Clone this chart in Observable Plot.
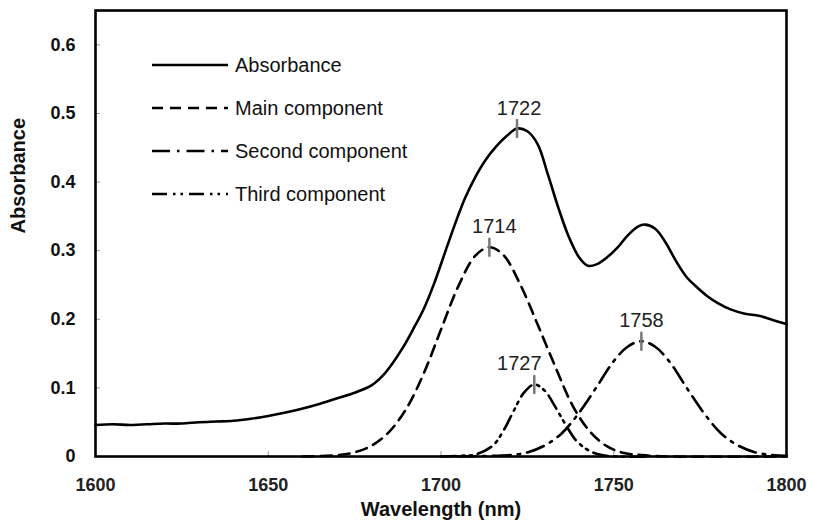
<!DOCTYPE html>
<html>
<head>
<meta charset="utf-8">
<script src="https://cdn.jsdelivr.net/npm/d3@7"></script>
<script src="https://cdn.jsdelivr.net/npm/@observablehq/plot@0.6"></script>
<style>
  body { margin: 0; background: #fff; }
  #chart { width: 815px; height: 531px; }
  #chart svg { font-family: Arial, "Liberation Sans", sans-serif; }
</style>
</head>
<body>
<div id="chart"></div>
<script>
// Measured absorbance spectrum
const absWl = [1600, 1605, 1610, 1615, 1620, 1625, 1630, 1635, 1640, 1645, 1650, 1655, 1660, 1665, 1670, 1675, 1680, 1683, 1686, 1689, 1692, 1695, 1698, 1701, 1704, 1707, 1710, 1713, 1716, 1719, 1722, 1725, 1728, 1731, 1734, 1737, 1740, 1742.5, 1745, 1748, 1751, 1754, 1757, 1759, 1762, 1765, 1768, 1771, 1774, 1777, 1780, 1784, 1788, 1792, 1796, 1800];
const absVal = [0.046, 0.047, 0.046, 0.047, 0.048, 0.048, 0.050, 0.051, 0.052, 0.055, 0.059, 0.064, 0.070, 0.077, 0.085, 0.093, 0.104, 0.117, 0.136, 0.159, 0.186, 0.215, 0.252, 0.295, 0.338, 0.377, 0.408, 0.433, 0.452, 0.467, 0.478, 0.474, 0.455, 0.410, 0.362, 0.320, 0.290, 0.278, 0.280, 0.290, 0.304, 0.322, 0.335, 0.338, 0.332, 0.312, 0.285, 0.262, 0.247, 0.234, 0.224, 0.214, 0.208, 0.205, 0.199, 0.193];

// Fitted components
const mainWl = [1660, 1670, 1675, 1680, 1685, 1690, 1695, 1700, 1705, 1710, 1714, 1718, 1723, 1728, 1733, 1738, 1743, 1748, 1753, 1758, 1765, 1800];
const mainVal = [0, 0.002, 0.006, 0.016, 0.036, 0.070, 0.121, 0.185, 0.248, 0.293, 0.305, 0.294, 0.250, 0.192, 0.132, 0.075, 0.037, 0.015, 0.005, 0.002, 0, 0];

const secondWl = [1705, 1715, 1720, 1725, 1730, 1735, 1740, 1745, 1750, 1754, 1758, 1762, 1766, 1771, 1776, 1781, 1786, 1791, 1796, 1800];
const secondVal = [0, 0.001, 0.002, 0.006, 0.016, 0.034, 0.064, 0.101, 0.139, 0.160, 0.168, 0.160, 0.139, 0.101, 0.064, 0.034, 0.016, 0.006, 0.002, 0.001];

const thirdWl = [1700, 1705, 1710, 1715, 1718, 1721, 1724, 1727, 1730, 1733, 1736, 1739, 1742, 1745, 1750, 1760];
const thirdVal = [0, 0.001, 0.003, 0.016, 0.037, 0.066, 0.093, 0.105, 0.096, 0.073, 0.047, 0.024, 0.011, 0.004, 0, 0];

// Peak positions marked on the curves
const peakWl = [1722, 1714, 1727, 1758];
const peakVal = [0.478, 0.305, 0.105, 0.168];

const seriesNames = ["Absorbance", "Main component", "Second component", "Third component"];
const xTicks = [1600, 1650, 1700, 1750, 1800];
const yTicks = [0, 0.1, 0.2, 0.3, 0.4, 0.5, 0.6];

// line styles per series
const dashes = [null, "11,7", "18,7,2.5,7", "15,6,2.5,5,2.5,6"];
const lineWidth = 2.6;

const toRows = (wl, val) => wl.map((w, i) => ({wl: w, a: val[i]}));
const seriesRows = [
  toRows(absWl, absVal),
  toRows(mainWl, mainVal),
  toRows(secondWl, secondVal),
  toRows(thirdWl, thirdVal)
];
const peaks = peakWl.map((w, i) => ({wl: w, a: peakVal[i]}));
// small horizontal nudges for crowded peak labels
const labelShift = {1714: 5, 1727: -15, 1722: 2};

// legend drawn inside the frame, top-left
function legend(index, scales, values, dims) {
  const g = d3.create("svg:g");
  const x0 = dims.marginLeft + 57, x1 = dims.marginLeft + 133;
  seriesNames.forEach((name, i) => {
    const y = 65 + i * 43;
    const line = g.append("line")
      .attr("x1", x0).attr("x2", x1).attr("y1", y).attr("y2", y)
      .attr("stroke", "black").attr("stroke-width", lineWidth);
    if (dashes[i]) line.attr("stroke-dasharray", dashes[i]);
    g.append("text")
      .attr("x", x1 + 7).attr("y", y).attr("dy", "0.36em")
      .attr("text-anchor", "start")
      .attr("font-size", 20).attr("fill", "#111")
      .text(name);
  });
  return g.node();
}

const chart = Plot.plot({
  width: 815,
  height: 531,
  marginLeft: 95,
  marginRight: 29,
  marginTop: 10,
  marginBottom: 75,
  x: {domain: [1600, 1800]},
  y: {domain: [0, 0.65]},
  marks: [
    // inward grey ticks
    Plot.axisY(yTicks, {tickSize: 5, dx: 5, stroke: "#999", text: null, label: null}),
    Plot.axisX(xTicks.slice(1, -1), {tickSize: 5, dy: -5, stroke: "#999", text: null, label: null}),
    // tick labels
    Plot.axisY(yTicks, {tickSize: 0, tickPadding: 20, fontSize: 18, fontWeight: "bold", fill: "#111",
      tickFormat: d => d === 0 ? "0" : d.toFixed(1), label: null}),
    Plot.axisX(xTicks, {tickSize: 0, tickPadding: 22, fontSize: 18, fontWeight: "bold", fill: "#222",
      tickFormat: d => String(d), label: null}),
    // axis titles
    Plot.text(["Absorbance"], {frameAnchor: "left", dx: -77, rotate: -90, text: d => d,
      fontSize: 20, fontWeight: "bold", fill: "#111"}),
    Plot.text(["Wavelength (nm)"], {frameAnchor: "bottom", dy: 59, text: d => d,
      fontSize: 20, fontWeight: "bold", fill: "#111"}),
    // curves
    ...seriesRows.map((rows, i) => Plot.line(rows, {
      x: "wl", y: "a", curve: "catmull-rom", stroke: "black",
      strokeWidth: lineWidth, strokeDasharray: dashes[i]
    })),
    // peak markers and labels
    Plot.vector(peaks, {
      x: "wl", y: "a", length: 17, rotate: 0, anchor: "middle",
      stroke: "#777", strokeWidth: 2.5,
      shape: {draw(ctx, l) { ctx.moveTo(0, 0); ctx.lineTo(0, -l); }}
    }),
    ...peaks.map(p => Plot.text([p], {
      x: "wl", y: "a", text: d => String(d.wl), dy: -14, dx: labelShift[p.wl] || 0,
      lineAnchor: "bottom", fontSize: 20, fill: "#222"
    })),
    legend,
    Plot.frame({stroke: "black", strokeWidth: 2.6})
  ]
});

document.getElementById("chart").append(chart);
</script>
</body>
</html>
